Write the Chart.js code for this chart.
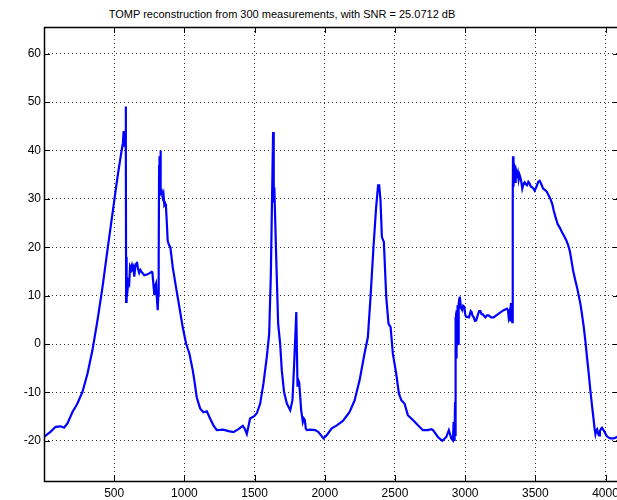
<!DOCTYPE html>
<html>
<head>
  <title>TOMP reconstruction</title>
  <script src="https://cdn.jsdelivr.net/npm/chart.js@4.4.0/dist/chart.umd.min.js"></script>
  <style>
    html, body { margin: 0; padding: 0; overflow: hidden; background: #fff; }
    #title {
      position: absolute; top: 8px; left: 0; width: 564px;
      text-align: center; font: 11px "Liberation Sans", Arial, sans-serif; color: #000;
    }
    #wrap { position: absolute; top: 0; left: 0; }
  </style>
</head>
<body>
  <div id="title">TOMP reconstruction from 300 measurements, with SNR = 25.0712 dB</div>
  <div id="wrap"><canvas id="chart" width="619" height="500"></canvas></div>
  <script>
    // sample index (x) and reconstructed value (y)
    var sampleIdx = [0, 48, 83, 119, 143, 167, 202, 238, 274, 310, 345, 381, 417, 452, 488, 524, 552, 562, 567, 571, 575, 579, 582, 584, 585, 587, 590, 595, 600, 607, 613, 619, 626, 631, 637, 643, 650, 656, 662, 670, 678, 686, 695, 714, 738, 767, 772, 786, 792, 798, 805, 810, 814, 817, 820, 822, 824, 827, 829, 831, 833, 839, 845, 851, 857, 863, 869, 875, 881, 890, 900, 917, 940, 964, 988, 1012, 1036, 1060, 1071, 1088, 1112, 1136, 1160, 1183, 1207, 1231, 1278, 1314, 1350, 1385, 1416, 1430, 1445, 1468, 1497, 1516, 1540, 1563, 1587, 1604, 1616, 1625, 1632, 1635, 1638, 1642, 1644, 1654, 1668, 1682, 1694, 1710, 1730, 1754, 1770, 1782, 1792, 1797, 1800, 1806, 1812, 1818, 1832, 1844, 1851, 1858, 1865, 1872, 1896, 1932, 1955, 1991, 2015, 2050, 2086, 2110, 2129, 2176, 2212, 2248, 2283, 2307, 2326, 2347, 2366, 2380, 2388, 2397, 2407, 2421, 2438, 2454, 2469, 2485, 2509, 2528, 2545, 2568, 2592, 2628, 2664, 2699, 2735, 2760, 2771, 2806, 2837, 2866, 2884, 2901, 2913, 2918, 2922, 2925, 2928, 2930, 2932, 2934, 2936, 2938, 2940, 2942, 2944, 2946, 2948, 2951, 2954, 2958, 2962, 2970, 2979, 2986, 2994, 3001, 3008, 3015, 3027, 3040, 3046, 3053, 3060, 3070, 3079, 3090, 3100, 3108, 3117, 3127, 3135, 3144, 3155, 3167, 3185, 3203, 3239, 3274, 3298, 3305, 3310, 3316, 3322, 3326, 3329, 3333, 3336, 3339, 3341, 3343, 3346, 3349, 3353, 3356, 3360, 3365, 3369, 3375, 3381, 3387, 3393, 3400, 3407, 3415, 3424, 3432, 3441, 3450, 3460, 3468, 3476, 3485, 3495, 3503, 3512, 3520, 3531, 3543, 3555, 3570, 3583, 3595, 3607, 3620, 3631, 3645, 3659, 3675, 3690, 3705, 3721, 3733, 3745, 3757, 3769, 3783, 3797, 3809, 3821, 3833, 3845, 3857, 3868, 3880, 3892, 3904, 3916, 3922, 3928, 3934, 3940, 3947, 3954, 3960, 3968, 3975, 3982, 3994, 4006, 4020, 4035, 4058, 4082, 4092];
    var recon = [-19.2, -18.1, -17.1, -17.0, -17.3, -16.4, -14.1, -12.3, -9.9, -6.1, -1.3, 4.9, 11.8, 19.4, 27.0, 34.6, 39.8, 41.5, 44.0, 41.0, 44.0, 42.0, 49.1, 40.0, 8.7, 18.0, 9.5, 11.1, 13.0, 12.5, 16.0, 15.6, 16.3, 15.6, 16.0, 13.9, 15.9, 16.5, 17.0, 15.5, 14.7, 15.3, 14.9, 14.2, 14.4, 14.9, 14.8, 10.1, 12.0, 12.5, 9.0, 7.0, 10.0, 18.0, 37.0, 33.0, 38.8, 35.0, 40.0, 33.0, 31.1, 31.5, 30.4, 31.0, 28.7, 29.0, 28.3, 25.0, 21.4, 20.5, 20.0, 15.9, 11.8, 7.7, 3.5, 0.1, -2.0, -5.5, -7.5, -11.0, -13.3, -14.1, -13.9, -15.4, -16.8, -17.8, -17.7, -18.0, -18.2, -17.6, -16.9, -17.5, -18.6, -15.4, -14.9, -14.3, -12.3, -8.2, -2.7, 2.1, 14.5, 31.1, 43.8, 43.8, 30.4, 31.0, 31.0, 18.0, 4.2, 0.1, -5.5, -9.9, -12.3, -13.7, -11.6, -4.1, 2.8, 6.6, 6.6, -8.8, -7.5, -8.0, -13.7, -16.1, -15.4, -15.7, -17.5, -17.8, -17.7, -17.8, -18.2, -19.5, -18.8, -17.4, -16.8, -16.3, -15.9, -14.1, -11.7, -7.5, -2.0, 1.4, 9.7, 20.0, 28.3, 32.8, 32.8, 29.7, 22.1, 21.1, 9.7, 4.2, 3.5, -2.0, -6.1, -10.2, -11.6, -12.3, -14.7, -15.7, -16.8, -17.8, -17.8, -17.6, -17.8, -19.2, -20.0, -19.2, -17.8, -19.5, -19.9, -16.1, -19.8, -18.6, -12.0, -19.0, 5.6, -3.4, 6.5, -3.0, 7.0, 0.0, 7.5, 1.0, 8.0, 0.1, 8.3, 9.3, 9.8, 7.5, 7.0, 7.9, 7.7, 6.0, 5.6, 5.6, 5.5, 6.8, 6.6, 5.8, 5.6, 4.8, 4.9, 6.0, 6.8, 6.8, 6.2, 6.1, 5.8, 5.5, 5.9, 5.9, 5.5, 5.5, 6.3, 7.0, 7.3, 7.0, 5.6, 6.5, 4.9, 8.5, 8.0, 5.0, 4.5, 30.0, 38.8, 33.0, 32.5, 37.0, 36.6, 33.5, 34.2, 35.5, 34.9, 35.5, 34.0, 35.0, 34.5, 33.5, 32.1, 33.0, 33.4, 33.0, 32.8, 33.5, 33.1, 32.5, 32.4, 32.2, 31.7, 32.2, 32.8, 33.5, 33.7, 33.0, 32.1, 31.8, 31.4, 30.7, 30.0, 29.0, 27.6, 26.1, 24.8, 24.0, 23.1, 22.3, 21.4, 20.5, 19.3, 17.3, 15.2, 13.4, 11.7, 10.0, 8.3, 6.0, 3.5, 0.5, -2.7, -6.0, -9.6, -12.8, -15.8, -17.5, -18.6, -17.8, -17.6, -18.5, -18.9, -18.0, -17.5, -17.3, -17.3, -18.2, -18.9, -19.3, -19.5, -19.5, -19.2, -18.9];

    var xTicks = [500, 1000, 1500, 2000, 2500, 3000, 3500, 4000];
    var yTicks = [-20, -10, 0, 10, 20, 30, 40, 50, 60];

    var points = sampleIdx.map(function (x, i) { return { x: x, y: recon[i] }; });

    // box around the plot area plus inward tick marks, like the original
    var boxPlugin = {
      id: "box",
      afterDraw: function (chart) {
        var ctx = chart.ctx, a = chart.chartArea;
        var xs = chart.scales.x, ys = chart.scales.y, t = 6;
        ctx.save();
        ctx.strokeStyle = "#000";
        ctx.lineWidth = 1;
        ctx.beginPath();
        xTicks.forEach(function (v) {
          var px = Math.round(xs.getPixelForValue(v)) + 0.5;
          ctx.moveTo(px, a.bottom); ctx.lineTo(px, a.bottom - t);
          ctx.moveTo(px, a.top); ctx.lineTo(px, a.top + t);
        });
        yTicks.forEach(function (v) {
          var py = Math.round(ys.getPixelForValue(v)) + 0.5;
          ctx.moveTo(a.left, py); ctx.lineTo(a.left + t, py);
          ctx.moveTo(a.right, py); ctx.lineTo(a.right - t, py);
        });
        ctx.stroke();
        ctx.lineWidth = 1.5;
        ctx.strokeRect(Math.round(a.left) + 0.5, Math.round(a.top) + 0.5, a.right - a.left, a.bottom - a.top);
        ctx.restore();
      }
    };

    var gridStyle = {
      color: "rgba(0,0,0,0.8)",
      lineWidth: 1,
      drawTicks: false
    };

    function plainLabel(v) { return String(v); }

    var ctx = document.getElementById("chart").getContext("2d");
    var chart = new Chart(ctx, {
      type: "line",
      data: {
        datasets: [{
          data: points,
          borderColor: "#0000ff",
          borderWidth: 2.2,
          pointRadius: 0,
          tension: 0,
          fill: false
        }]
      },
      options: {
        responsive: false,
        animation: false,
        layout: { padding: { top: 27, right: 0, left: 0, bottom: 0 } },
        plugins: { legend: { display: false }, tooltip: { enabled: false }, title: { display: false } },
        scales: {
          x: {
            type: "linear",
            min: 0,
            max: 4096,
            grid: gridStyle,
            border: { display: false, dash: [1, 3] },
            ticks: { color: "#000", font: { family: "Liberation Sans", size: 12 }, padding: 5, maxRotation: 0, callback: plainLabel },
            afterBuildTicks: function (s) { s.ticks = xTicks.map(function (v) { return { value: v }; }); },
            afterFit: function (s) { s.height = 19; s.paddingLeft = 0; s.paddingRight = 0; }
          },
          y: {
            min: -28.3,
            max: 65.5,
            grid: gridStyle,
            border: { display: false, dash: [1, 3] },
            ticks: { color: "#000", font: { family: "Liberation Sans", size: 12 }, padding: 3, callback: plainLabel },
            afterBuildTicks: function (s) { s.ticks = yTicks.map(function (v) { return { value: v }; }); },
            afterFit: function (s) { s.width = 44; s.paddingTop = 0; s.paddingBottom = 0; }
          }
        }
      },
      plugins: [boxPlugin]
    });
  </script>
</body>
</html>
